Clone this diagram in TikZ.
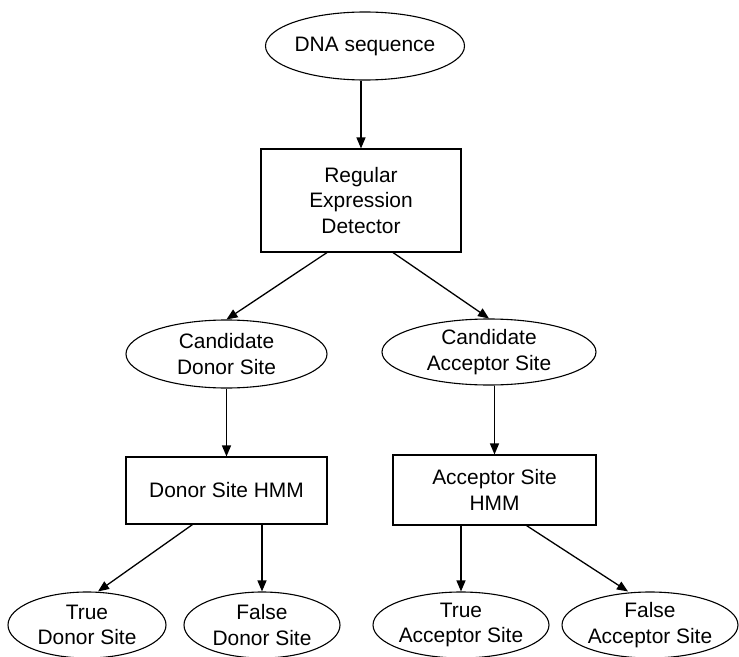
\documentclass[tikz,border=0pt]{standalone}
\usepackage{fontspec}
\setmainfont{Liberation Sans}
\usetikzlibrary{shapes.geometric,arrows.meta,calc}
\begin{document}
\begin{tikzpicture}[x=1bp,y=-1bp,
  every node/.style={font=\fontsize{21}{25.5}\selectfont, align=center, inner sep=0pt, line width=1.1bp},
  oval/.style={draw, ellipse},
  boxnode/.style={draw, rectangle},
  arr/.style={draw, line width=1.3bp, -{Triangle[length=11bp,width=9bp]}}]
\useasboundingbox (0,0) rectangle (739,657);
\node[oval, minimum width=180bp, minimum height=68bp] (dna) at (365,46) {DNA sequence};
\node[boxnode, minimum width=200bp, minimum height=103bp] (reg) at (361,200.5) {Regular\\Expression\\Detector};
\node[oval, minimum width=201bp, minimum height=68bp] (cdonor) at (226.5,354) {Candidate\\Donor Site};
\node[oval, minimum width=214bp, minimum height=66bp] (cacc) at (489,352) {Candidate\\Acceptor Site};
\node[boxnode, minimum width=201bp, minimum height=67bp] (dhmm) at (226.5,490.5) {Donor Site HMM};
\node[boxnode, minimum width=203bp, minimum height=70bp] (ahmm) at (494.5,490) {Acceptor Site\\HMM};
\node[oval, minimum width=158bp, minimum height=66bp] (tdonor) at (87,625) {True\\Donor Site};
\node[oval, minimum width=156bp, minimum height=66bp] (fdonor) at (262,625) {False\\Donor Site};
\node[oval, minimum width=168bp, minimum height=66bp] (tacc) at (461,625) {True\\Acceptor Site};
\node[oval, minimum width=174bp, minimum height=66bp] (facc) at (650,625) {False\\Acceptor Site};

\draw[arr] (dna.south -| reg.north) -- (reg.north);
\draw[arr] ($(reg.south)+(-34,0)$) -- (cdonor.north);
\draw[arr] ($(reg.south)+(32,0)$) -- (cacc.north);
\draw[arr] (cdonor.south) -- (dhmm.north);
\draw[arr] (cacc.south -| ahmm.north) -- (ahmm.north);
\draw[arr] ($(dhmm.south)+(-34,0)$) -- ($(tdonor.north)+(11,0)$);
\draw[arr] (fdonor.north |- dhmm.south) -- (fdonor.north);
\draw[arr] (tacc.north |- ahmm.south) -- (tacc.north);
\draw[arr] ($(ahmm.south)+(32,0)$) -- ($(facc.north)+(-22,0)$);
\end{tikzpicture}
\end{document}
